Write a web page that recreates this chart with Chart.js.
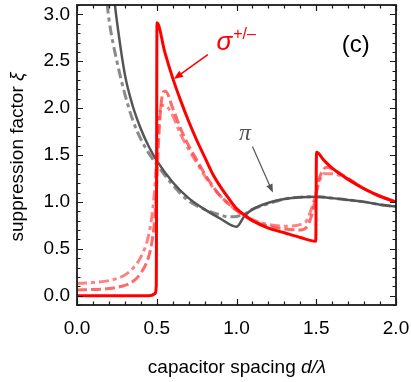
<!DOCTYPE html>
<html>
<head>
<meta charset="utf-8">
<script src="https://cdn.jsdelivr.net/npm/chart.js@4.4.1/dist/chart.umd.min.js"></script>
<style>
  html, body { margin: 0; padding: 0; background: #fff; }
  canvas { display: block; }
</style>
</head>
<body>
<canvas id="chart" width="411" height="382"></canvas>
<script>
// values
const xTicks = [0, 0.5, 1.0, 1.5, 2.0];
const yTicks = [0, 0.5, 1.0, 1.5, 2.0, 2.5, 3.0];

// sigma +/- , solid
const sigSolidX = [0, 0.45, 0.47, 0.488, 0.497, 0.5015, 0.55, 0.6, 0.65, 0.7, 0.75, 0.8, 0.85, 0.9, 0.95, 1.0, 1.05, 1.1, 1.2, 1.3, 1.4, 1.497, 1.5015, 1.55, 1.6, 1.7, 1.8, 1.9, 2.0];
const sigSolidY = [0, 0, 0.003, 0.02, 0.1, 2.91, 2.6, 2.32, 2.08, 1.86, 1.66, 1.48, 1.3, 1.16, 1.04, 0.93, 0.86, 0.8, 0.72, 0.67, 0.62, 0.58, 1.53, 1.44, 1.36, 1.24, 1.14, 1.06, 1.0];

// sigma +/- , dashed
const sigDashX = [0, 0.1, 0.2, 0.3, 0.35, 0.4, 0.45, 0.475, 0.49, 0.5, 0.51, 0.525, 0.54, 0.555, 0.6, 0.65, 0.7, 0.75, 0.8, 0.85, 0.9, 0.95, 1.0, 1.05, 1.1, 1.2, 1.3, 1.4, 1.44, 1.47, 1.49, 1.5, 1.51, 1.53, 1.565, 1.6, 1.7, 1.8, 1.9, 2.0];
const sigDashY = [0.06, 0.065, 0.075, 0.11, 0.15, 0.24, 0.42, 0.63, 0.88, 1.2, 1.6, 2.0, 2.17, 2.18, 2.0, 1.78, 1.6, 1.45, 1.3, 1.17, 1.06, 0.98, 0.91, 0.85, 0.8, 0.74, 0.71, 0.7, 0.73, 0.85, 1.0, 1.1, 1.2, 1.3, 1.37, 1.35, 1.25, 1.14, 1.06, 1.0];

// sigma +/- , dot-dashed
const sigDotX = [0, 0.1, 0.2, 0.3, 0.35, 0.4, 0.45, 0.475, 0.49, 0.5, 0.51, 0.53, 0.56, 0.6, 0.65, 0.7, 0.75, 0.8, 0.85, 0.9, 0.95, 1.0, 1.1, 1.2, 1.3, 1.43, 1.46, 1.48, 1.5, 1.52, 1.545, 1.6, 1.7, 1.8, 1.9, 2.0];
const sigDotY = [0.13, 0.14, 0.16, 0.22, 0.29, 0.41, 0.65, 0.92, 1.2, 1.5, 1.8, 2.03, 2.02, 1.92, 1.72, 1.56, 1.42, 1.28, 1.16, 1.06, 0.98, 0.91, 0.81, 0.76, 0.74, 0.78, 0.88, 0.98, 1.1, 1.22, 1.3, 1.3, 1.24, 1.14, 1.06, 1.0];

// pi , solid
const piSolidX = [0.222, 0.238, 0.25, 0.3, 0.35, 0.4, 0.45, 0.5, 0.6, 0.7, 0.8, 0.9, 1.0, 1.05, 1.1, 1.2, 1.3, 1.4, 1.5, 1.6, 1.7, 1.8, 1.9, 2.0];
const piSolidY = [3.35, 3.1, 2.93, 2.36, 2.02, 1.78, 1.59, 1.44, 1.21, 1.04, 0.92, 0.82, 0.735, 0.85, 0.92, 0.99, 1.03, 1.05, 1.055, 1.04, 1.02, 1.0, 0.97, 0.95];

// pi , dot-dashed
const piDotX = [0.175, 0.19, 0.2, 0.25, 0.3, 0.35, 0.4, 0.45, 0.5, 0.6, 0.7, 0.8, 0.9, 0.95, 1.0, 1.05, 1.1, 1.2, 1.3, 1.4, 1.5, 1.6, 1.7, 1.8, 1.9, 2.0];
const piDotY = [3.35, 3.1, 2.95, 2.5, 2.15, 1.87, 1.67, 1.52, 1.4, 1.18, 1.01, 0.92, 0.86, 0.84, 0.845, 0.87, 0.92, 0.98, 1.03, 1.05, 1.055, 1.04, 1.02, 1.0, 0.97, 0.95];

const FONT = "'Liberation Sans', Arial, sans-serif";

const pts = (xs, ys) => xs.map((x, i) => ({ x, y: ys[i] }));

const lineDs = (label, xs, ys, color, width, dash, order) => ({
  label, data: pts(xs, ys), borderColor: color, borderWidth: width,
  borderDash: dash, pointRadius: 0, fill: false, order,
  cubicInterpolationMode: "monotone", borderCapStyle: "butt", borderJoinStyle: "round"
});

// inward ticks on all four sides + frame
const frameTicks = {
  id: "frameTicks",
  afterDraw(chart) {
    const { ctx, chartArea: a, scales: { x, y } } = chart;
    ctx.save();
    ctx.strokeStyle = "#1a1a1a";
    ctx.lineWidth = 1.2;
    ctx.beginPath();
    for (let i = 0; i <= 20; i++) {
      const px = Math.round(x.getPixelForValue(i / 10)) + 0.5;
      const len = i % 5 === 0 ? 6 : 3.5;
      ctx.moveTo(px, a.bottom); ctx.lineTo(px, a.bottom - len);
      ctx.moveTo(px, a.top); ctx.lineTo(px, a.top + len);
    }
    for (let i = -1; i <= 31; i++) {
      const py = Math.round(y.getPixelForValue(i / 10)) + 0.5;
      const len = i % 5 === 0 ? 6 : 3.5;
      ctx.moveTo(a.left, py); ctx.lineTo(a.left + len, py);
      ctx.moveTo(a.right, py); ctx.lineTo(a.right - len, py);
    }
    ctx.stroke();
    ctx.lineWidth = 1.8;
    ctx.strokeRect(a.left, a.top, a.right - a.left, a.bottom - a.top);
    ctx.restore();
  }
};

function arrow(ctx, x0, y0, x1, y1, color, w, head) {
  const ang = Math.atan2(y1 - y0, x1 - x0);
  ctx.save();
  ctx.strokeStyle = color; ctx.fillStyle = color; ctx.lineWidth = w;
  ctx.beginPath();
  ctx.moveTo(x0, y0);
  ctx.lineTo(x1 - Math.cos(ang) * head * 0.8, y1 - Math.sin(ang) * head * 0.8);
  ctx.stroke();
  ctx.beginPath();
  ctx.moveTo(x1, y1);
  ctx.lineTo(x1 - head * Math.cos(ang - 0.38), y1 - head * Math.sin(ang - 0.38));
  ctx.lineTo(x1 - head * Math.cos(ang + 0.38), y1 - head * Math.sin(ang + 0.38));
  ctx.closePath();
  ctx.fill();
  ctx.restore();
}

// mixed normal/italic text
function richText(ctx, parts, cx, cy, size) {
  let total = 0;
  parts.forEach(p => { ctx.font = `${p[1] ? "italic " : ""}${size}px ${FONT}`; total += ctx.measureText(p[0]).width; });
  let x = cx - total / 2;
  ctx.textBaseline = "middle"; ctx.textAlign = "left";
  parts.forEach(p => {
    ctx.font = `${p[1] ? "italic " : ""}${size}px ${FONT}`;
    ctx.fillText(p[0], x, cy);
    x += ctx.measureText(p[0]).width;
  });
}

const labels = {
  id: "labels",
  afterDraw(chart) {
    const { ctx, scales: { x, y } } = chart;
    ctx.save();
    ctx.fillStyle = "#000";
    // axis titles
    richText(ctx, [["capacitor spacing ", false], ["d/\u03bb", true]], 237, 368, 19);
    ctx.save();
    ctx.translate(18, 157);
    ctx.rotate(-Math.PI / 2);
    richText(ctx, [["suppression factor ", false], ["\u03be", true]], 0, 0, 19);
    ctx.restore();

    // panel tag
    ctx.font = `24px ${FONT}`;
    ctx.textAlign = "left"; ctx.textBaseline = "alphabetic";
    ctx.fillText("(c)", x.getPixelForValue(1.66), y.getPixelForValue(2.6));

    // sigma label
    ctx.fillStyle = "#ff0000";
    ctx.font = `italic 26px ${FONT}`;
    const sx = x.getPixelForValue(0.875), sy = y.getPixelForValue(2.62);
    ctx.fillText("\u03c3", sx, sy);
    const sw = ctx.measureText("\u03c3").width;
    ctx.font = `16px ${FONT}`;
    ctx.fillText("+/\u2013", sx + sw + 1, sy - 11);
    arrow(ctx, x.getPixelForValue(0.82), y.getPixelForValue(2.57),
      x.getPixelForValue(0.607), y.getPixelForValue(2.31), "#ff0000", 1.5, 10);

    // pi label
    ctx.fillStyle = "#555";
    ctx.font = `italic 24px 'Liberation Serif', serif`;
    ctx.fillText("\u03c0", x.getPixelForValue(1.016), y.getPixelForValue(1.66));
    arrow(ctx, x.getPixelForValue(1.10), y.getPixelForValue(1.59),
      x.getPixelForValue(1.228), y.getPixelForValue(1.1), "#555", 1.2, 9);
    ctx.restore();
  }
};

new Chart(document.getElementById("chart"), {
  type: "line",
  data: {
    datasets: [
      lineDs("sigma solid", sigSolidX, sigSolidY, "#ff0000", 3, [], 0),
      lineDs("sigma dashed", sigDashX, sigDashY, "rgba(255,70,70,0.8)", 3, [10, 4], 1),
      lineDs("sigma dot-dashed", sigDotX, sigDotY, "rgba(255,90,90,0.75)", 3, [10, 4, 4, 4], 2),
      lineDs("pi solid", piSolidX, piSolidY, "#555555", 2.5, [], 3),
      lineDs("pi dot-dashed", piDotX, piDotY, "#8a8a8a", 3, [10, 4, 4, 4], 4)
    ]
  },
  options: {
    responsive: false,
    animation: false,
    layout: { padding: { left: 0, right: 15, top: 5, bottom: 0 } },
    plugins: { legend: { display: false }, tooltip: { enabled: false } },
    scales: {
      x: {
        type: "linear", min: 0, max: 2,
        afterBuildTicks: s => { s.ticks = xTicks.map(v => ({ value: v })); },
        afterFit: s => { s.height = 77; s.paddingLeft = 0; s.paddingRight = 0; },
        grid: { display: false, drawTicks: false },
        border: { display: false },
        ticks: { color: "#000", font: { size: 19, family: FONT }, padding: 12, maxRotation: 0, autoSkip: false,
          callback: v => Number(v).toFixed(1) }
      },
      y: {
        type: "linear", min: -0.1, max: 3.1,
        afterBuildTicks: s => { s.ticks = yTicks.map(v => ({ value: v })); },
        afterFit: s => { s.width = 77; s.paddingTop = 0; s.paddingBottom = 0; },
        grid: { display: false, drawTicks: false },
        border: { display: false },
        ticks: { color: "#000", font: { size: 19, family: FONT }, padding: 7, autoSkip: false,
          callback: v => Number(v).toFixed(1) }
      }
    }
  },
  plugins: [frameTicks, labels]
});
</script>
</body>
</html>
